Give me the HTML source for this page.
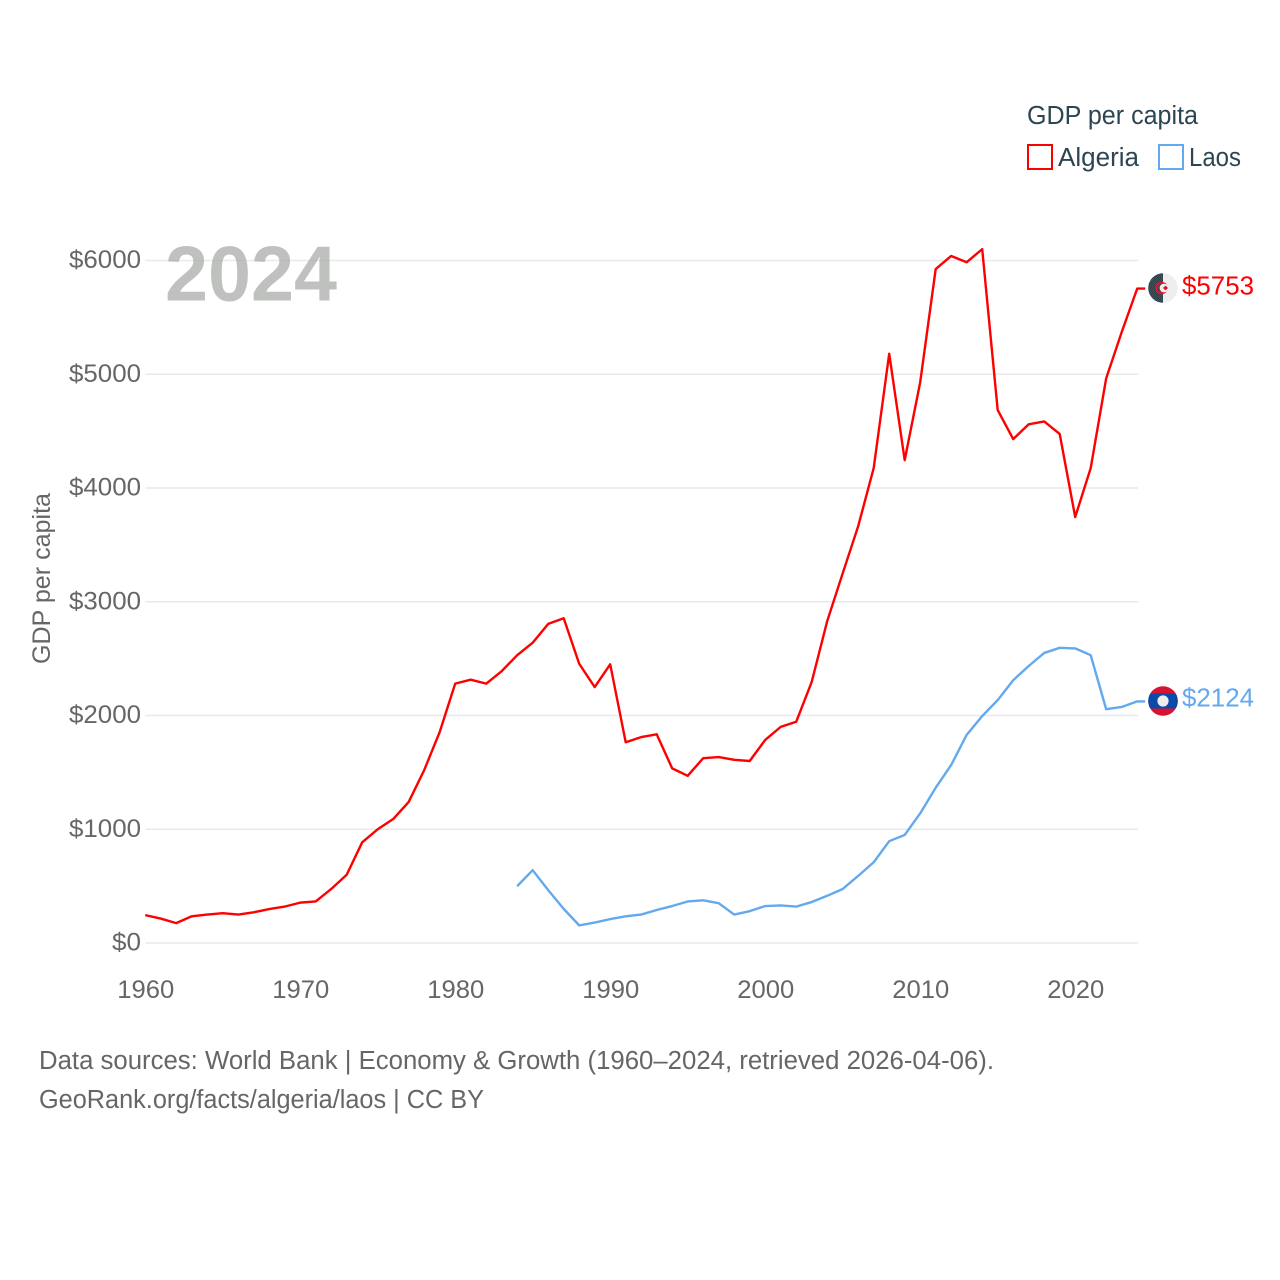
<!DOCTYPE html>
<html lang="en">
<head>
<meta charset="utf-8">
<title>GDP per capita: Algeria and Laos</title>
<style>
html,body{margin:0;padding:0;background:#fff}
svg{display:block}
text{font-family:"Liberation Sans",sans-serif}
</style>
</head>
<body>
<svg id="chart" width="1280" height="1280" viewBox="0 0 1280 1280" xmlns="http://www.w3.org/2000/svg">
  <defs>
    <pattern id="dither" width="2" height="2" patternUnits="userSpaceOnUse">
      <rect width="2" height="2" fill="#3c5560"/>
      <rect width="1" height="1" fill="#2c3f48"/>
      <rect x="1" y="1" width="1" height="1" fill="#2c3f48"/>
    </pattern>
    <clipPath id="clip-dz"><circle cx="1163" cy="288" r="14.8"/></clipPath>
    <clipPath id="clip-la"><circle cx="1163" cy="701" r="14.8"/></clipPath>
  </defs>
  <rect width="1280" height="1280" fill="#fff"/>
  <g id="grid"></g>
  <g id="y-ticks"></g>
  <g id="x-ticks"></g>
  <text transform="translate(50,664) rotate(-90)" font-size="25" fill="#666" textLength="171" lengthAdjust="spacingAndGlyphs">GDP per capita</text>
  <text x="165" y="300.5" font-size="78" font-weight="700" fill="#a9acaa" fill-opacity="0.75" textLength="172" lengthAdjust="spacingAndGlyphs">2024</text>
  <g id="series"></g>

  <g>
    <text x="1027" y="124" font-size="25.5" fill="#2b4553" textLength="171" lengthAdjust="spacingAndGlyphs">GDP per capita</text>
    <g>
      <rect x="1028" y="145" width="24" height="24" fill="none" stroke="#ff0000" stroke-width="2"/>
      <text x="1058" y="166" font-size="25.5" fill="#2b4553" textLength="81" lengthAdjust="spacingAndGlyphs">Algeria</text>
    </g>
    <g>
      <rect x="1159" y="145" width="24" height="24" fill="none" stroke="#63a9ee" stroke-width="2"/>
      <text x="1189" y="166" font-size="25.5" fill="#2b4553" textLength="52" lengthAdjust="spacingAndGlyphs">Laos</text>
    </g>
  </g>

  <g>
    <g clip-path="url(#clip-dz)">
      <rect x="1148" y="273" width="15" height="30" fill="url(#dither)"/>
      <rect x="1163" y="273" width="15" height="30" fill="#eeeeee"/>
    </g>
    <circle cx="1161.5" cy="288" r="5.2" fill="none" stroke="#e8112d" stroke-width="2.2"/>
    <circle cx="1164" cy="288" r="4.4" fill="#eeeeee"/>
    <rect x="1163.5" y="287" width="4" height="2" fill="#e8112d"/>
    <rect x="1164.5" y="286" width="2" height="4" fill="#e8112d"/>
  </g>
  <g>
    <g clip-path="url(#clip-la)">
      <rect x="1148" y="686" width="30" height="30" fill="#d8122f"/>
      <rect x="1148" y="693.5" width="30" height="15" fill="#0a4aa8"/>
    </g>
    <circle cx="1163" cy="701" r="5.6" fill="#eeeeee"/>
  </g>
  <text x="1182" y="294.5" font-size="26" fill="#ff0000" textLength="72" lengthAdjust="spacingAndGlyphs">$5753</text>
  <text x="1182" y="706.5" font-size="26" fill="#63a9ee" textLength="72" lengthAdjust="spacingAndGlyphs">$2124</text>

  <text x="39" y="1069" font-size="25.5" fill="#666" textLength="955" lengthAdjust="spacingAndGlyphs">Data sources: World Bank | Economy &amp; Growth (1960–2024, retrieved 2026-04-06).</text>
  <a><text x="39" y="1108" font-size="25.5" fill="#666" textLength="445" lengthAdjust="spacingAndGlyphs">GeoRank.org/facts/algeria/laos | CC BY</text></a>
</svg>
<script>
const startYear = 1960;
const xTickYears = [1960, 1970, 1980, 1990, 2000, 2010, 2020];
const yTickValues = [0, 1000, 2000, 3000, 4000, 5000, 6000];
const yTickLabels = ["$0", "$1000", "$2000", "$3000", "$4000", "$5000", "$6000"];
const algeriaStartYear = 1960;
const algeriaValues = [245, 215, 175, 235, 250, 262, 250, 270, 298, 320, 355, 365, 475, 600, 885, 1000, 1090, 1240, 1520, 1855, 2280, 2315, 2280, 2390, 2530, 2640, 2805, 2855, 2455, 2250, 2450, 1765, 1810, 1835, 1535, 1470, 1625, 1635, 1610, 1600, 1785, 1900, 1945, 2295, 2830, 3250, 3665, 4175, 5180, 4245, 4930, 5925, 6040, 5985, 6100, 4685, 4430, 4560, 4585, 4475, 3745, 4175, 4965, 5370, 5753];
const laosStartYear = 1984;
const laosValues = [500, 640, 465, 300, 155, 180, 210, 235, 250, 290, 325, 365, 375, 350, 250, 280, 325, 330, 320, 360, 415, 475, 590, 710, 895, 950, 1140, 1365, 1565, 1830, 1995, 2135, 2310, 2435, 2550, 2595, 2590, 2530, 2055, 2075, 2124];

const NS = "http://www.w3.org/2000/svg";
const xScale = function (year) { return 145.2 + (year - startYear) * 15.5; };
const yScale = function (value) { return 943 - value * 0.11375; };

const gridGroup = document.getElementById("grid");
const yTickGroup = document.getElementById("y-ticks");
const xTickGroup = document.getElementById("x-ticks");
const seriesGroup = document.getElementById("series");

yTickValues.forEach(function (value, i) {
  const line = document.createElementNS(NS, "line");
  
  
  line.setAttribute("x1", 145.5);
  line.setAttribute("x2", 1138);
  line.setAttribute("y1", yScale(value));
  line.setAttribute("y2", yScale(value));
  line.setAttribute("stroke", "#e9e9e9");
  line.setAttribute("stroke-width", 1.4);
  gridGroup.appendChild(line);

  const label = document.createElementNS(NS, "text");
  
  
  label.setAttribute("x", 141);
  label.setAttribute("y", yScale(value) + 7.5);
  label.setAttribute("text-anchor", "end");
  label.setAttribute("font-size", 25);
  label.setAttribute("fill", "#666");
  label.setAttribute("textLength", value === 0 ? 29 : 72);
  label.setAttribute("lengthAdjust", "spacingAndGlyphs");
  label.textContent = yTickLabels[i];
  yTickGroup.appendChild(label);
});

xTickYears.forEach(function (year) {
  const label = document.createElementNS(NS, "text");
  
  
  label.setAttribute("x", xScale(year) + 0.6);
  label.setAttribute("y", 998);
  label.setAttribute("text-anchor", "middle");
  label.setAttribute("font-size", 25);
  label.setAttribute("fill", "#666");
  label.setAttribute("textLength", 57);
  label.setAttribute("lengthAdjust", "spacingAndGlyphs");
  label.textContent = String(year);
  xTickGroup.appendChild(label);
});

function linePoints(firstYear, values) {
  const pts = values.map(function (value, i) {
    return xScale(firstYear + i).toFixed(2) + "," + yScale(value).toFixed(2);
  });
  const lastValue = values[values.length - 1];
  pts.push((xScale(firstYear + values.length - 1) + 8).toFixed(2) + "," + yScale(lastValue).toFixed(2));
  return pts.join(" ");
}

const algeriaLine = document.createElementNS(NS, "polyline");


algeriaLine.setAttribute("points", linePoints(algeriaStartYear, algeriaValues));
algeriaLine.setAttribute("fill", "none");
algeriaLine.setAttribute("stroke", "#ff0000");
algeriaLine.setAttribute("stroke-width", 2.4);
algeriaLine.setAttribute("stroke-linejoin", "round");
seriesGroup.appendChild(algeriaLine);

const laosLine = document.createElementNS(NS, "polyline");


laosLine.setAttribute("points", linePoints(laosStartYear, laosValues));
laosLine.setAttribute("fill", "none");
laosLine.setAttribute("stroke", "#63a9ee");
laosLine.setAttribute("stroke-width", 2.4);
laosLine.setAttribute("stroke-linejoin", "round");
seriesGroup.appendChild(laosLine);
</script>
</body>
</html>
